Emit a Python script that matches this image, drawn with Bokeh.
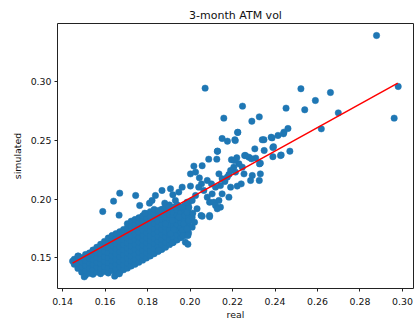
from bokeh.plotting import figure
from bokeh.models import Range1d, FixedTicker, NumeralTickFormatter, ColumnDataSource
from bokeh.embed import file_html
from bokeh.resources import INLINE

# Dense core of the cloud: real vol -> simulated vols observed at that level
core_columns = [
    (0.1455, [0.1445, 0.1488]),
    (0.1472, [0.1410, 0.1452, 0.1497, 0.1515]),
    (0.1490, [0.1378, 0.1421, 0.1463, 0.1502]),
    (0.1508, [0.1352, 0.1395, 0.1437, 0.1479, 0.1528]),
    (0.1526, [0.1368, 0.1410, 0.1455, 0.1496, 0.1541]),
    (0.1543, [0.1360, 0.1402, 0.1444, 0.1487, 0.1530, 0.1566]),
    (0.1561, [0.1378, 0.1419, 0.1462, 0.1505, 0.1548, 0.1590]),
    (0.1579, [0.1365, 0.1409, 0.1451, 0.1493, 0.1536, 0.1577, 0.1615]),
    (0.1597, [0.1384, 0.1426, 0.1470, 0.1512, 0.1555, 0.1597, 0.1640]),
    (0.1615, [0.1371, 0.1415, 0.1457, 0.1500, 0.1543, 0.1585, 0.1628, 0.1668]),
    (0.1633, [0.1392, 0.1433, 0.1476, 0.1518, 0.1561, 0.1604, 0.1647, 0.1690]),
    (0.1651, [0.1358, 0.1405, 0.1448, 0.1490, 0.1533, 0.1576, 0.1619, 0.1662, 0.1706]),
    (0.1669, [0.1380, 0.1422, 0.1466, 0.1509, 0.1551, 0.1594, 0.1637, 0.1680, 0.1722]),
    (0.1687, [0.1398, 0.1441, 0.1483, 0.1526, 0.1569, 0.1612, 0.1654, 0.1697, 0.1741]),
    (0.1705, [0.1412, 0.1455, 0.1497, 0.1540, 0.1583, 0.1626, 0.1668, 0.1711, 0.1755, 0.1790]),
    (0.1723, [0.1430, 0.1473, 0.1516, 0.1558, 0.1601, 0.1644, 0.1686, 0.1729, 0.1772, 0.1812]),
    (0.1741, [0.1445, 0.1488, 0.1531, 0.1573, 0.1616, 0.1659, 0.1702, 0.1745, 0.1788, 0.1826]),
    (0.1759, [0.1462, 0.1505, 0.1548, 0.1590, 0.1633, 0.1676, 0.1719, 0.1762, 0.1805, 0.1841]),
    (0.1777, [0.1480, 0.1523, 0.1565, 0.1608, 0.1651, 0.1694, 0.1736, 0.1779, 0.1822, 0.1858]),
    (0.1795, [0.1498, 0.1541, 0.1583, 0.1626, 0.1669, 0.1712, 0.1754, 0.1797, 0.1840, 0.1875]),
    (0.1813, [0.1516, 0.1559, 0.1602, 0.1644, 0.1687, 0.1730, 0.1772, 0.1815, 0.1858, 0.1893]),
    (0.1831, [0.1535, 0.1578, 0.1620, 0.1663, 0.1706, 0.1748, 0.1791, 0.1834, 0.1876, 0.1912]),
    (0.1849, [0.1553, 0.1596, 0.1639, 0.1681, 0.1724, 0.1767, 0.1810, 0.1852, 0.1895]),
    (0.1867, [0.1571, 0.1614, 0.1657, 0.1700, 0.1742, 0.1785, 0.1828, 0.1870, 0.1913]),
    (0.1885, [0.1590, 0.1633, 0.1676, 0.1718, 0.1761, 0.1804, 0.1846, 0.1889, 0.1932]),
    (0.1903, [0.1612, 0.1655, 0.1697, 0.1740, 0.1783, 0.1826, 0.1868, 0.1911, 0.1950]),
    (0.1921, [0.1631, 0.1674, 0.1717, 0.1759, 0.1802, 0.1845, 0.1887, 0.1930]),
    (0.1939, [0.1652, 0.1695, 0.1738, 0.1780, 0.1823, 0.1866, 0.1908, 0.1951]),
    (0.1957, [0.1671, 0.1714, 0.1757, 0.1800, 0.1842, 0.1885, 0.1928]),
    (0.1975, [0.1690, 0.1733, 0.1776, 0.1819, 0.1861, 0.1904, 0.1946]),
    (0.1993, [0.1712, 0.1755, 0.1798, 0.1840, 0.1883, 0.1926, 0.1969]),
]

# Scattered observations around the core and along the upper tail
band_real = [
    0.1640, 0.1669, 0.1589, 0.1666, 0.1744, 0.1787, 0.1763, 0.1809, 0.1821, 0.1837,
    0.1868, 0.1908, 0.1919, 0.1881, 0.1963, 0.2002, 0.1947,
    0.1447, 0.1475, 0.1502, 0.1645, 0.1667,
    0.1931, 0.1900, 0.1853, 0.1963, 0.1986, 0.1947, 0.1916, 0.1884, 0.1971, 0.1994,
    0.2010, 0.1963, 0.1923, 0.1908, 0.1986, 0.2010,
    0.1916, 0.1978, 0.1967, 0.1853,
    0.2002, 0.2018, 0.2057, 0.2026, 0.2044, 0.2054, 0.2088, 0.2126, 0.2129,
    0.2041, 0.2065, 0.2081, 0.2104, 0.2092, 0.2112,
    0.2057, 0.2092, 0.2013, 0.2033, 0.1994, 0.1986, 0.2010, 0.2026,
    0.2136, 0.2151, 0.2175, 0.2183, 0.2164, 0.2143, 0.2120, 0.2101, 0.2081,
    0.2191, 0.2222, 0.2241,
    0.2183, 0.2151, 0.2136, 0.2120, 0.2143, 0.2128,
    0.2195, 0.2220, 0.2261, 0.2277, 0.2309, 0.2331, 0.2246, 0.2254, 0.2293, 0.2331,
    0.2285, 0.2326, 0.2230, 0.2206, 0.2191, 0.2214,
    0.2052, 0.2092, 0.2021, 0.1990, 0.1990,
]
band_sim = [
    0.1982, 0.2050, 0.1894, 0.1863, 0.2030, 0.1880, 0.1945, 0.1965, 0.1988, 0.2030,
    0.2073, 0.2087, 0.2036, 0.1965, 0.2101, 0.2110, 0.2059,
    0.1472, 0.1514, 0.1338, 0.1344, 0.1364,
    0.1988, 0.1931, 0.1903, 0.1931, 0.1888, 0.1846, 0.1818, 0.1789, 0.1789, 0.1818,
    0.1761, 0.1732, 0.1738, 0.1704, 0.1747, 0.1846,
    0.1628, 0.1633, 0.1690, 0.1562,
    0.2214, 0.2280, 0.2283, 0.2229, 0.2180, 0.2129, 0.2339, 0.2339, 0.2407,
    0.2101, 0.2073, 0.2016, 0.2044, 0.1973, 0.1973,
    0.1854, 0.1849, 0.1880, 0.1917, 0.1931, 0.1973, 0.1988, 0.2030,
    0.2214, 0.2172, 0.2186, 0.2209, 0.2149, 0.2115, 0.2101, 0.2129, 0.2158,
    0.2101, 0.2110, 0.2129,
    0.2016, 0.2044, 0.1988, 0.1945, 0.1931, 0.1917,
    0.2334, 0.2351, 0.2370, 0.2356, 0.2348, 0.2305, 0.2271, 0.2214, 0.2200, 0.2214,
    0.2158, 0.2158, 0.2300, 0.2271, 0.2243, 0.2229,
    0.1860, 0.1860, 0.1803, 0.1690, 0.1616,
]

tail_real = [
    0.2878, 0.2071, 0.2522, 0.2980, 0.2661, 0.2590, 0.2247, 0.2452, 0.2540, 0.2698,
    0.2159, 0.2326, 0.2291, 0.2961, 0.2618, 0.2461, 0.2442, 0.2414, 0.2382, 0.2348,
    0.2340, 0.2224, 0.2151, 0.2176, 0.2211, 0.2129, 0.2305, 0.2390, 0.2349, 0.2426,
    0.2470, 0.2386, 0.2440, 0.2393, 0.2390, 0.2429, 0.2257, 0.2289, 0.2327, 0.2209,
    0.2213, 0.2225,
]
tail_sim = [
    0.3391, 0.2943, 0.2938, 0.2957, 0.2906, 0.2838, 0.2790, 0.2773, 0.2759, 0.2733,
    0.2688, 0.2699, 0.2662, 0.2688, 0.2597, 0.2600, 0.2569, 0.2541, 0.2526, 0.2504,
    0.2504, 0.2566, 0.2515, 0.2492, 0.2504, 0.2407, 0.2427, 0.2438, 0.2413, 0.2370,
    0.2407, 0.2520, 0.2555, 0.2445, 0.2360, 0.2374, 0.2370, 0.2342, 0.2299, 0.2327,
    0.2497, 0.2568,
]

# End points of the fitted regression line
fit_real = [0.1447, 0.2978]
fit_sim = [0.1455, 0.2986]

x_ticks = [0.14, 0.16, 0.18, 0.20, 0.22, 0.24, 0.26, 0.28, 0.30]
y_ticks = [0.15, 0.20, 0.25, 0.30]

real = [x for x, ys in core_columns for _ in ys] + band_real + tail_real
simulated = [y for _, ys in core_columns for y in ys] + band_sim + tail_sim
src = ColumnDataSource(dict(real=real, simulated=simulated))

FONT = "DejaVu Sans"

p = figure(
    width=414, height=322, output_backend="svg", toolbar_location=None,
    x_range=Range1d(0.1376, 0.3052), y_range=Range1d(0.1239, 0.3493),
    min_border_left=57, min_border_right=1, min_border_top=23, min_border_bottom=34,
    title="3-month ATM vol",
)
p.background_fill_color = "white"
p.border_fill_color = "white"
p.grid.visible = False
p.outline_line_color = "#222222"
p.outline_line_width = 1
p.outline_line_alpha = 1

p.title.align = "center"
p.title.text_font = FONT
p.title.text_font_style = "normal"
p.title.text_font_size = "11px"
p.title.text_color = "#111111"
p.title.standoff = 4

for ax, ticks, label in ((p.xaxis[0], x_ticks, "real"), (p.yaxis[0], y_ticks, "simulated")):
    ax.ticker = FixedTicker(ticks=ticks)
    ax.formatter = NumeralTickFormatter(format="0.00")
    ax.axis_label = label
    ax.axis_label_text_font = FONT
    ax.axis_label_text_font_style = "normal"
    ax.axis_label_text_font_size = "9.4px"
    ax.axis_label_text_color = "#111111"
    ax.major_label_text_font = FONT
    ax.major_label_text_font_size = "9.4px"
    ax.major_label_text_color = "#111111"
    ax.axis_line_color = None
    ax.major_tick_line_color = "#222222"
    ax.major_tick_out = 3
    ax.major_tick_in = 0
    ax.minor_tick_line_color = None

p.xaxis[0].major_label_standoff = 6
p.xaxis[0].axis_label_standoff = 1
p.yaxis[0].major_label_standoff = 3
p.yaxis[0].axis_label_standoff = 5

p.scatter("real", "simulated", source=src, size=6.4, marker="circle",
          fill_color="#1f77b4", line_color="#1f77b4", line_width=0.5)
p.line(fit_real, fit_sim, line_color="red", line_width=1.5)

open("out.html", "w").write(file_html(p, INLINE))
